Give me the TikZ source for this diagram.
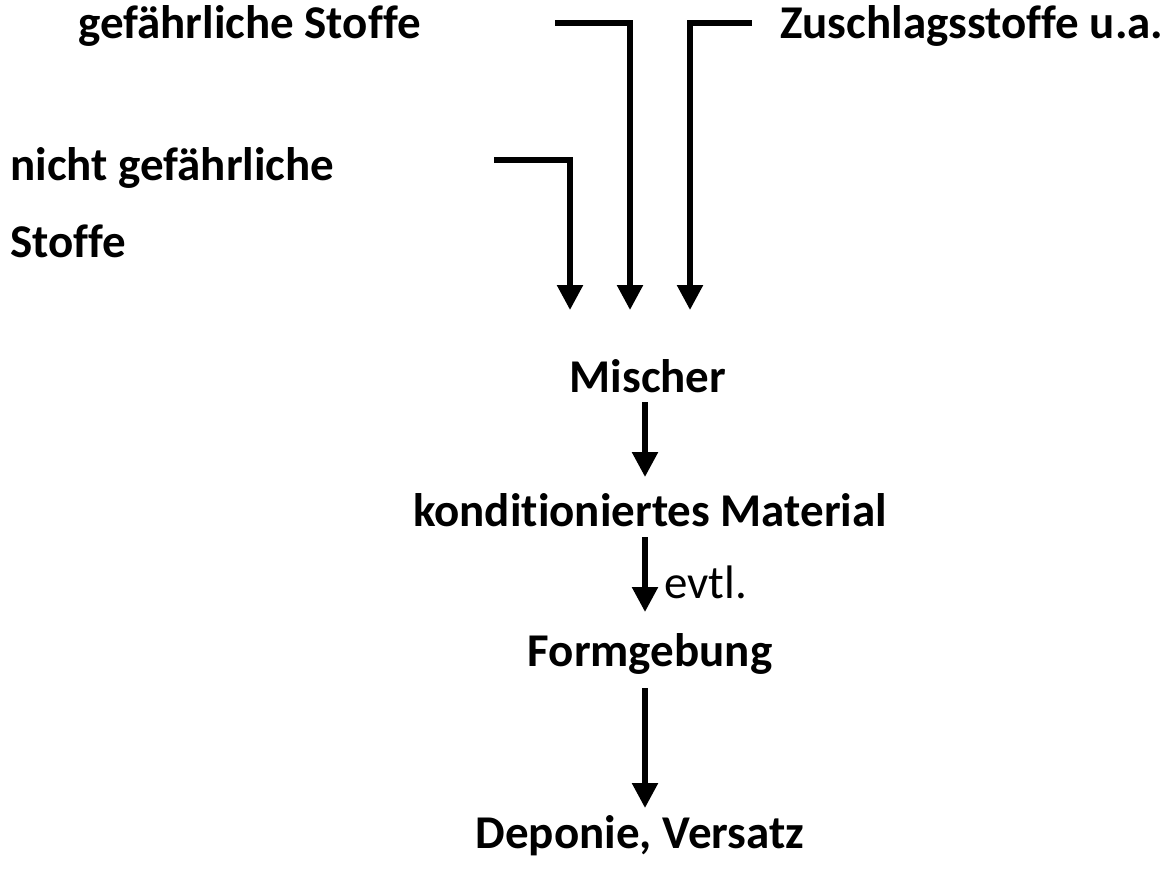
\documentclass[tikz,border=0pt]{standalone}
\usepackage{fontspec}
\setmainfont[Ligatures=NoCommon]{Carlito}
\usetikzlibrary{arrows.meta}
\begin{document}
\begin{tikzpicture}[x=1pt,y=-1pt,
  lbl/.style={font=\fontsize{47}{56}\selectfont\bfseries, inner sep=0pt, anchor=base},
  arr/.style={line width=5.5pt, -{Triangle[width=25pt,length=25pt]}}]
\useasboundingbox (0,0) rectangle (1172,880);
\node[lbl, anchor=base west] (gef) at (78,39) {gefährliche Stoffe};
\node[lbl, anchor=base west] (zus) at (780,39) {Zuschlagsstoffe u.a.};
\node[lbl, anchor=base west] (nich1) at (10,180) {nicht gefährliche};
\node[lbl, anchor=base west] (nich2) at (10,257) {Stoffe};
\node[lbl] (misch) at (648,392) {Mischer};
\node[lbl] (kond) at (650,526) {konditioniertes Material};
\node[lbl] (form) at (650,666) {Formgebung};
\node[lbl] (dep) at (640,848) {Deponie, Versatz};
\node[font=\fontsize{47}{56}\selectfont, inner sep=0pt, anchor=base west] (evtl) at (664,598) {evtl.};
% top feeds
\coordinate (a1) at (494,160); \coordinate (a2) at (570,160); \coordinate (a3) at (570,310);
\coordinate (b1) at (555,23); \coordinate (b2) at (630,23); \coordinate (b3) at (630,310);
\coordinate (c1) at (752,23); \coordinate (c2) at (690,23); \coordinate (c3) at (690,310);
\draw[arr, line join=miter] (a1) -- (a2) -- (a3);
\draw[arr, line join=miter] (b1) -- (b2) -- (b3);
\draw[arr, line join=miter] (c1) -- (c2) -- (c3);
% chain
\coordinate (m1) at (645,402); \coordinate (m2) at (645,477);
\coordinate (k1) at (645,537); \coordinate (k2) at (645,612);
\coordinate (f1) at (645,688); \coordinate (f2) at (645,808);
\draw[arr] (m1) -- (m2);
\draw[arr] (k1) -- (k2);
\draw[arr] (f1) -- (f2);
\end{tikzpicture}
\end{document}
